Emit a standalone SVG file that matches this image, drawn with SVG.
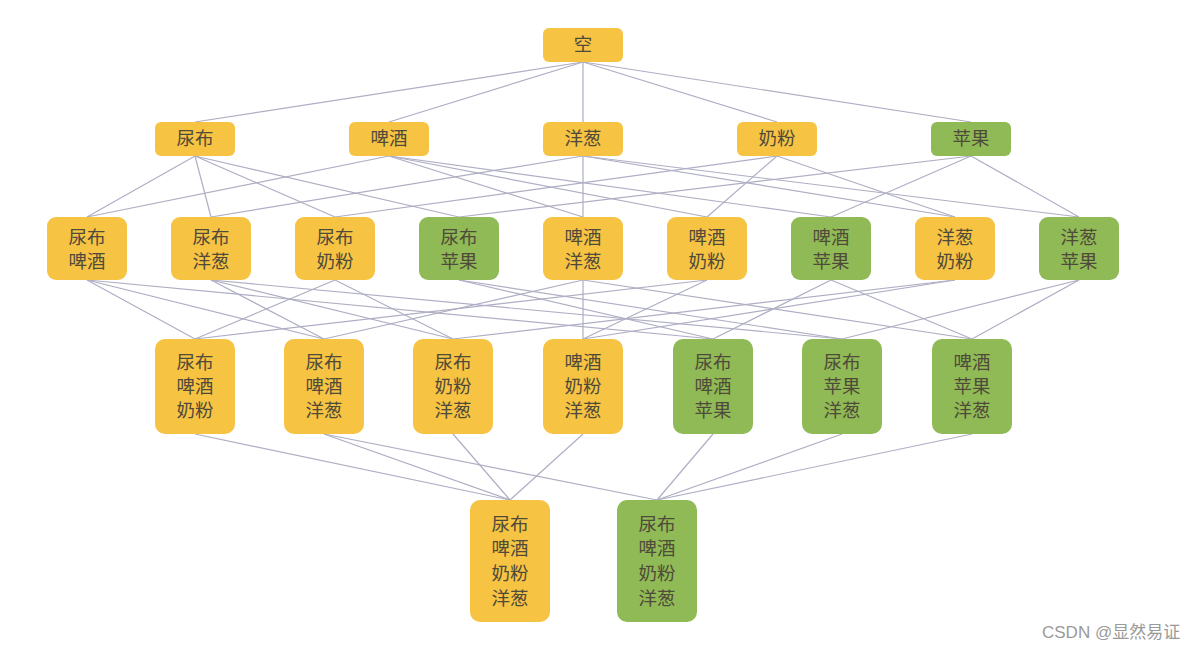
<svg xmlns="http://www.w3.org/2000/svg" width="1194" height="650" viewBox="0 0 1194 650">
<style>
.y{fill:#F6C343}
.g{fill:#8FBA55}
text{font-family:"Noto Sans CJK SC","Noto Sans",sans-serif;font-size:18.5px;fill:#4f4a3a;text-anchor:middle}
.wm{font-family:"Liberation Sans","Noto Sans CJK SC",sans-serif;font-size:17px;fill:#9a9a9a;text-anchor:start}
#edges line{stroke:#aeaec4;stroke-width:1.2}
</style>
<rect width="1194" height="650" fill="#ffffff"/>
<g id="edges">
<line x1="583" y1="62" x2="195" y2="122"/><line x1="583" y1="62" x2="389" y2="122"/><line x1="583" y1="62" x2="583" y2="122"/><line x1="583" y1="62" x2="777" y2="122"/><line x1="583" y1="62" x2="971" y2="122"/>
<line x1="195" y1="156" x2="87" y2="217"/><line x1="389" y1="156" x2="87" y2="217"/>
<line x1="195" y1="156" x2="211" y2="217"/><line x1="583" y1="156" x2="211" y2="217"/>
<line x1="195" y1="156" x2="335" y2="217"/><line x1="777" y1="156" x2="335" y2="217"/>
<line x1="195" y1="156" x2="459" y2="217"/><line x1="971" y1="156" x2="459" y2="217"/>
<line x1="389" y1="156" x2="583" y2="217"/><line x1="583" y1="156" x2="583" y2="217"/>
<line x1="389" y1="156" x2="707" y2="217"/><line x1="777" y1="156" x2="707" y2="217"/>
<line x1="389" y1="156" x2="831" y2="217"/><line x1="971" y1="156" x2="831" y2="217"/>
<line x1="583" y1="156" x2="955" y2="217"/><line x1="777" y1="156" x2="955" y2="217"/>
<line x1="583" y1="156" x2="1079" y2="217"/><line x1="971" y1="156" x2="1079" y2="217"/>
<line x1="87" y1="280" x2="195" y2="339"/><line x1="335" y1="280" x2="195" y2="339"/><line x1="707" y1="280" x2="195" y2="339"/>
<line x1="87" y1="280" x2="324" y2="339"/><line x1="211" y1="280" x2="324" y2="339"/><line x1="583" y1="280" x2="324" y2="339"/>
<line x1="211" y1="280" x2="453" y2="339"/><line x1="335" y1="280" x2="453" y2="339"/><line x1="955" y1="280" x2="453" y2="339"/>
<line x1="583" y1="280" x2="583" y2="339"/><line x1="707" y1="280" x2="583" y2="339"/><line x1="955" y1="280" x2="583" y2="339"/>
<line x1="87" y1="280" x2="713" y2="339"/><line x1="459" y1="280" x2="713" y2="339"/><line x1="831" y1="280" x2="713" y2="339"/>
<line x1="211" y1="280" x2="842" y2="339"/><line x1="459" y1="280" x2="842" y2="339"/><line x1="1079" y1="280" x2="842" y2="339"/>
<line x1="583" y1="280" x2="972" y2="339"/><line x1="831" y1="280" x2="972" y2="339"/><line x1="1079" y1="280" x2="972" y2="339"/>
<line x1="195" y1="434" x2="510" y2="500"/><line x1="324" y1="434" x2="510" y2="500"/><line x1="453" y1="434" x2="510" y2="500"/><line x1="583" y1="434" x2="510" y2="500"/>
<line x1="324" y1="434" x2="657" y2="500"/><line x1="713" y1="434" x2="657" y2="500"/><line x1="842" y1="434" x2="657" y2="500"/><line x1="972" y1="434" x2="657" y2="500"/>
</g>
<g id="n0"><rect class="y" x="543" y="28" width="80" height="34" rx="6"/><text x="583" y="51">空</text></g>
<g id="n1"><rect class="y" x="155" y="122" width="80" height="34" rx="6"/><text x="195" y="145">尿布</text></g>
<g id="n2"><rect class="y" x="349" y="122" width="80" height="34" rx="6"/><text x="389" y="145">啤酒</text></g>
<g id="n3"><rect class="y" x="543" y="122" width="80" height="34" rx="6"/><text x="583" y="145">洋葱</text></g>
<g id="n4"><rect class="y" x="737" y="122" width="80" height="34" rx="6"/><text x="777" y="145">奶粉</text></g>
<g id="n5"><rect class="g" x="931" y="122" width="80" height="34" rx="6"/><text x="971" y="145">苹果</text></g>
<g id="n12"><rect class="y" x="47" y="217" width="80" height="63" rx="9"/><text x="87" y="244">尿布</text><text x="87" y="268">啤酒</text></g>
<g id="n13"><rect class="y" x="171" y="217" width="80" height="63" rx="9"/><text x="211" y="244">尿布</text><text x="211" y="268">洋葱</text></g>
<g id="n14"><rect class="y" x="295" y="217" width="80" height="63" rx="9"/><text x="335" y="244">尿布</text><text x="335" y="268">奶粉</text></g>
<g id="n15"><rect class="g" x="419" y="217" width="80" height="63" rx="9"/><text x="459" y="244">尿布</text><text x="459" y="268">苹果</text></g>
<g id="n23"><rect class="y" x="543" y="217" width="80" height="63" rx="9"/><text x="583" y="244">啤酒</text><text x="583" y="268">洋葱</text></g>
<g id="n24"><rect class="y" x="667" y="217" width="80" height="63" rx="9"/><text x="707" y="244">啤酒</text><text x="707" y="268">奶粉</text></g>
<g id="n25"><rect class="g" x="791" y="217" width="80" height="63" rx="9"/><text x="831" y="244">啤酒</text><text x="831" y="268">苹果</text></g>
<g id="n34"><rect class="y" x="915" y="217" width="80" height="63" rx="9"/><text x="955" y="244">洋葱</text><text x="955" y="268">奶粉</text></g>
<g id="n35"><rect class="g" x="1039" y="217" width="80" height="63" rx="9"/><text x="1079" y="244">洋葱</text><text x="1079" y="268">苹果</text></g>
<g id="n124"><rect class="y" x="155" y="339" width="80" height="95" rx="10"/><text x="195" y="369">尿布</text><text x="195" y="393">啤酒</text><text x="195" y="417">奶粉</text></g>
<g id="n123"><rect class="y" x="284" y="339" width="80" height="95" rx="10"/><text x="324" y="369">尿布</text><text x="324" y="393">啤酒</text><text x="324" y="417">洋葱</text></g>
<g id="n143"><rect class="y" x="413" y="339" width="80" height="95" rx="10"/><text x="453" y="369">尿布</text><text x="453" y="393">奶粉</text><text x="453" y="417">洋葱</text></g>
<g id="n243"><rect class="y" x="543" y="339" width="80" height="95" rx="10"/><text x="583" y="369">啤酒</text><text x="583" y="393">奶粉</text><text x="583" y="417">洋葱</text></g>
<g id="n125"><rect class="g" x="673" y="339" width="80" height="95" rx="10"/><text x="713" y="369">尿布</text><text x="713" y="393">啤酒</text><text x="713" y="417">苹果</text></g>
<g id="n153"><rect class="g" x="802" y="339" width="80" height="95" rx="10"/><text x="842" y="369">尿布</text><text x="842" y="393">苹果</text><text x="842" y="417">洋葱</text></g>
<g id="n253"><rect class="g" x="932" y="339" width="80" height="95" rx="10"/><text x="972" y="369">啤酒</text><text x="972" y="393">苹果</text><text x="972" y="417">洋葱</text></g>
<g id="n1243"><rect class="y" x="470" y="500" width="80" height="122" rx="10"/><text x="510" y="531">尿布</text><text x="510" y="555">啤酒</text><text x="510" y="580">奶粉</text><text x="510" y="605">洋葱</text></g>
<g id="n1243g"><rect class="g" x="617" y="500" width="80" height="122" rx="10"/><text x="657" y="531">尿布</text><text x="657" y="555">啤酒</text><text x="657" y="580">奶粉</text><text x="657" y="605">洋葱</text></g>
<text class="wm" x="1042" y="638">CSDN @显然易证</text>
</svg>
